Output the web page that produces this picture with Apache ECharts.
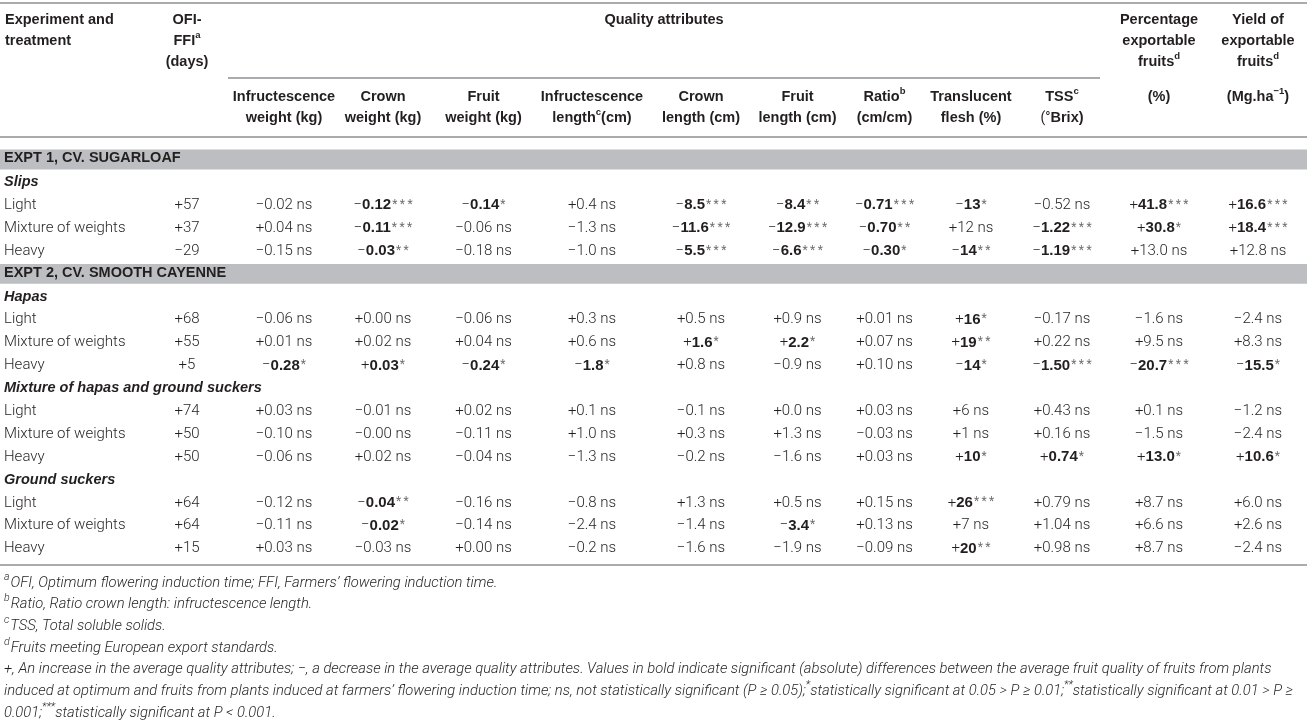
<!DOCTYPE html>
<html><head><meta charset="utf-8">
<script src="https://cdn.jsdelivr.net/npm/echarts@6/dist/echarts.min.js"></script>
<style>html,body{margin:0;padding:0;background:#fff}#c{width:1307px;height:726px}</style>
</head><body><div id="c"></div>
<script>
// ---------- DATA ----------
const rowLabels = ['EXPT 1, CV. SUGARLOAF','Slips','Light','Mixture of weights','Heavy',
  'EXPT 2, CV. SMOOTH CAYENNE','Hapas','Light','Mixture of weights','Heavy',
  'Mixture of hapas and ground suckers','Light','Mixture of weights','Heavy',
  'Ground suckers','Light','Mixture of weights','Heavy'];
const rowKinds = ['band','group','item','item','item','band','group','item','item','item',
  'group','item','item','item','group','item','item','item'];

const ofiFfi      = [57, 37, -29, 68, 55, 5, 74, 50, 50, 64, 64, 15];
const infWeight   = ['-0.02 ns','+0.04 ns','-0.15 ns','-0.06 ns','+0.01 ns','-0.28 *','+0.03 ns','-0.10 ns','-0.06 ns','-0.12 ns','-0.11 ns','+0.03 ns'];
const crownWeight = ['-0.12 ***','-0.11 ***','-0.03 **','+0.00 ns','+0.02 ns','+0.03 *','-0.01 ns','-0.00 ns','+0.02 ns','-0.04 **','-0.02 *','-0.03 ns'];
const fruitWeight = ['-0.14 *','-0.06 ns','-0.18 ns','-0.06 ns','+0.04 ns','-0.24 *','+0.02 ns','-0.11 ns','-0.04 ns','-0.16 ns','-0.14 ns','+0.00 ns'];
const infLength   = ['+0.4 ns','-1.3 ns','-1.0 ns','+0.3 ns','+0.6 ns','-1.8 *','+0.1 ns','+1.0 ns','-1.3 ns','-0.8 ns','-2.4 ns','-0.2 ns'];
const crownLength = ['-8.5 ***','-11.6 ***','-5.5 ***','+0.5 ns','+1.6 *','+0.8 ns','-0.1 ns','+0.3 ns','-0.2 ns','+1.3 ns','-1.4 ns','-1.6 ns'];
const fruitLength = ['-8.4 **','-12.9 ***','-6.6 ***','+0.9 ns','+2.2 *','-0.9 ns','+0.0 ns','+1.3 ns','-1.6 ns','+0.5 ns','-3.4 *','-1.9 ns'];
const ratio       = ['-0.71 ***','-0.70 **','-0.30 *','+0.01 ns','+0.07 ns','+0.10 ns','+0.03 ns','-0.03 ns','+0.03 ns','+0.15 ns','+0.13 ns','-0.09 ns'];
const translucent = ['-13 *','+12 ns','-14 **','+16 *','+19 **','-14 *','+6 ns','+1 ns','+10 *','+26 ***','+7 ns','+20 **'];
const tss         = ['-0.52 ns','-1.22 ***','-1.19 ***','-0.17 ns','+0.22 ns','-1.50 ***','+0.43 ns','+0.16 ns','+0.74 *','+0.79 ns','+1.04 ns','+0.98 ns'];
const pctExport   = ['+41.8 ***','+30.8 *','+13.0 ns','-1.6 ns','+9.5 ns','-20.7 ***','+0.1 ns','-1.5 ns','+13.0 *','+8.7 ns','+6.6 ns','+8.7 ns'];
const yieldExport = ['+16.6 ***','+18.4 ***','+12.8 ns','-2.4 ns','+8.3 ns','-15.5 *','-1.2 ns','-2.4 ns','+10.6 *','+6.0 ns','+2.6 ns','-2.4 ns'];

const topHeaders = [
  {col:0,  text:'Experiment and\ntreatment', align:'left'},
  {col:1,  text:'OFI-\nFFI{sup|a}\n(days)'},
  {col:11, text:'Percentage\nexportable\nfruits{sup|d}'},
  {col:12, text:'Yield of\nexportable\nfruits{sup|d}'}
];
const groupHeader = 'Quality attributes';
const subHeaders = ['Infructescence\nweight (kg)','Crown\nweight (kg)','Fruit\nweight (kg)',
  'Infructescence\nlength{sup|c}(cm)','Crown\nlength (cm)','Fruit\nlength (cm)','Ratio{sup|b}\n(cm/cm)',
  'Translucent\nflesh (%)','TSS{sup|c}\n{lt|(°}Brix)','(%)','(Mg.ha{sup|−1})'];
const footnotes = [
  '{sup|a}{gap| }OFI, Optimum flowering induction time; FFI, Farmers’ flowering induction time.',
  '{sup|b}{gap| }Ratio, Ratio crown length: infructescence length.',
  '{sup|c}{gap| }TSS, Total soluble solids.',
  '{sup|d}{gap| }Fruits meeting European export standards.',
  '+, An increase in the average quality attributes; −, a decrease in the average quality attributes. Values in bold indicate significant (absolute) differences between the average fruit quality of fruits from plants',
  'induced at optimum and fruits from plants induced at farmers’ flowering induction time; ns, not statistically significant (P ≥ 0.05);{sup|*}statistically significant at 0.05 > P ≥ 0.01;{sup|**}statistically significant at 0.01 > P ≥',
  '0.001;{sup|***}statistically significant at P < 0.001.'
];

// ---------- LAYOUT / STYLE ----------
const W = 1307;
const colWidths = [140, 94, 100, 98, 103, 114, 104, 89, 85, 88, 94, 100, 98];
const colStart = []; let acc = 0; colWidths.forEach(w => { colStart.push(acc); acc += w; });
const colCenter = colWidths.map((w, i) => colStart[i] + w / 2);
const INK = '#231f20', BAND = '#bdbec1', RULE = '#a9abae';
const LIGHT = 'Roboto', BOLD = '"Liberation Sans", Arial, sans-serif';
const richBase = {
  lt:  {fontFamily: LIGHT, fontWeight: 300, fontSize: 15, fill: INK},
  b:   {fontFamily: BOLD, fontWeight: 'bold', fontSize: 15, fill: INK},
  st:  {fontFamily: LIGHT, fontWeight: 400, fontSize: 12, fill: '#6d6e71', verticalAlign: 'top', padding: [1, 0, 0, 1]}
};
const valueColumns = [ofiFfi, infWeight, crownWeight, fruitWeight, infLength, crownLength,
  fruitLength, ratio, translucent, tss, pctExport, yieldExport];

function signOf(s) { return s === '-' ? '\u2212' : '+'; }
function cellText(col, k) {
  if (col === 0) { const v = ofiFfi[k]; return '{lt|' + (v < 0 ? '\u2212' : '+') + Math.abs(v) + '}'; }
  const parts = valueColumns[col][k].split(' ');
  const num = parts[0], sig = parts[1];
  const s = '{lt|' + signOf(num[0]) + '}';
  if (sig === 'ns') return s + '{lt|' + num.slice(1) + ' ns}';
  return s + '{b|' + num.slice(1) + '}{st|' + sig.split('').join('\u2009') + '}';
}

// build cells
const cellSpecs = [], seriesData = [];
let itemK = 0;
rowLabels.forEach((lab, r) => {
  const kind = rowKinds[r];
  cellSpecs.push({kind: kind, label: true, text: lab});
  seriesData.push([0, r]);
  if (kind === 'item') {
    for (let c = 0; c < valueColumns.length; c++) {
      cellSpecs.push({kind: 'value', text: cellText(c, itemK)});
      seriesData.push([c + 1, r]);
    }
    itemK++;
  }
});

function renderItem(params, api) {
  const spec = cellSpecs[params.dataIndex];
  const col = api.value(0), row = api.value(1);
  const h = api.size([0, 1])[1];
  const yc = api.coord([0, row])[1];
  if (spec.label) {
    const x0 = api.coord([4, row])[0];
    const children = [];
    if (spec.kind === 'band') {
      const xa = api.coord([0, row])[0], xb = api.coord([W, row])[0];
      children.push({type: 'rect', shape: {x: xa, y: yc - h * 0.435, width: xb - xa, height: h * 0.87},
        style: {fill: BAND}});
    }
    const st = spec.kind === 'item'
      ? {fontFamily: LIGHT, fontWeight: 300, fontSize: 15, fontStyle: 'normal'}
      : {fontFamily: BOLD, fontWeight: 'bold', fontSize: 14.5, fontStyle: spec.kind === 'group' ? 'italic' : 'normal'};
    children.push({type: 'text', x: x0, y: yc + (spec.kind === 'band' ? -1 : 0),
      style: Object.assign({text: spec.text, fill: INK, align: 'left', verticalAlign: 'middle'}, st)});
    return {type: 'group', children: children};
  }
  const x = api.coord([colCenter[col], row])[0];
  return {type: 'text', x: x, y: yc,
    style: {text: spec.text, rich: richBase, align: 'center', verticalAlign: 'middle',
      fontFamily: LIGHT, fontSize: 15, fill: INK}};
}

// header graphics
const hdrRich = {
  sup: {fontFamily: BOLD, fontWeight: 'bold', fontSize: 9.5, fill: INK, verticalAlign: 'top', lineHeight: 21},
  lt:  {fontFamily: LIGHT, fontWeight: 400, fontSize: 14, fill: INK, lineHeight: 21}
};
const hdrStyle = {fontFamily: BOLD, fontWeight: 'bold', fontSize: 14.5, fill: INK, lineHeight: 21};
const graphics = [];
function hdrText(x, y, text, align) {
  graphics.push({type: 'text', x: x, y: y,
    style: Object.assign({text: text, rich: hdrRich, align: align || 'center', verticalAlign: 'top'}, hdrStyle)});
}
topHeaders.forEach(hd => {
  hdrText(hd.align === 'left' ? colStart[hd.col] + 5 : colCenter[hd.col], 9, hd.text, hd.align);
});
const qaStart = colStart[2] - 6, qaEnd = colStart[11] - 9;
graphics.push({type: 'text', x: (qaStart + qaEnd) / 2, y: 9,
  style: Object.assign({text: groupHeader, align: 'center', verticalAlign: 'top'}, hdrStyle)});
subHeaders.forEach((t, i) => hdrText(colCenter[i + 2], 86.5, t));
function rule(x1, x2, y) {
  graphics.push({type: 'line', shape: {x1: x1, y1: y, x2: x2, y2: y}, style: {stroke: RULE, lineWidth: 2}});
}
rule(0, W, 3); rule(qaStart, qaEnd, 78); rule(0, W, 137); rule(0, W, 565);

// footnotes (font size fitted so the long lines span the page width)
const fnFamily = 'Roboto';
const meas = document.createElement('canvas').getContext('2d');
meas.font = 'italic 300 14px ' + fnFamily;
const strip = t => t.replace(/\{[a-z]+\|([^}]*)\}/g, '$1');
const w5 = meas.measureText(strip(footnotes[4])).width;
const w6 = meas.measureText(strip(footnotes[5])).width;
let fnSize = Math.min(14 * 1294 / w5, 14 * 1296 / w6);
if (!isFinite(fnSize) || fnSize > 16 || fnSize < 11) fnSize = 13.3;
const fnLine = fnSize * 1.55;
const fnRich = {
  sup: {fontFamily: fnFamily, fontStyle: 'italic', fontWeight: 300, fontSize: fnSize * 0.72, fill: INK, verticalAlign: 'top'},
  gap: {fontFamily: fnFamily, fontSize: fnSize * 0.25, fill: INK, lineHeight: fnLine}
};
footnotes.forEach((t, i) => {
  graphics.push({type: 'text', x: 4, y: 583 + i * 21.7,
    style: {text: t, rich: fnRich, fontFamily: fnFamily, fontStyle: 'italic', fontWeight: 300,
      fontSize: fnSize, lineHeight: fnLine, fill: INK, align: 'left', verticalAlign: 'middle'}});
});

const chart = echarts.init(document.getElementById('c'), null, {renderer: 'canvas'});
chart.setOption({
  backgroundColor: '#fff',
  animation: false,
  grid: {left: 0, right: 0, top: 148, height: 412},
  xAxis: {type: 'value', min: 0, max: W, show: false},
  yAxis: {type: 'category', data: rowLabels, inverse: true, show: false},
  graphic: graphics,
  series: [{type: 'custom', renderItem: renderItem, data: seriesData, silent: true, clip: false}]
});
</script></body></html>
